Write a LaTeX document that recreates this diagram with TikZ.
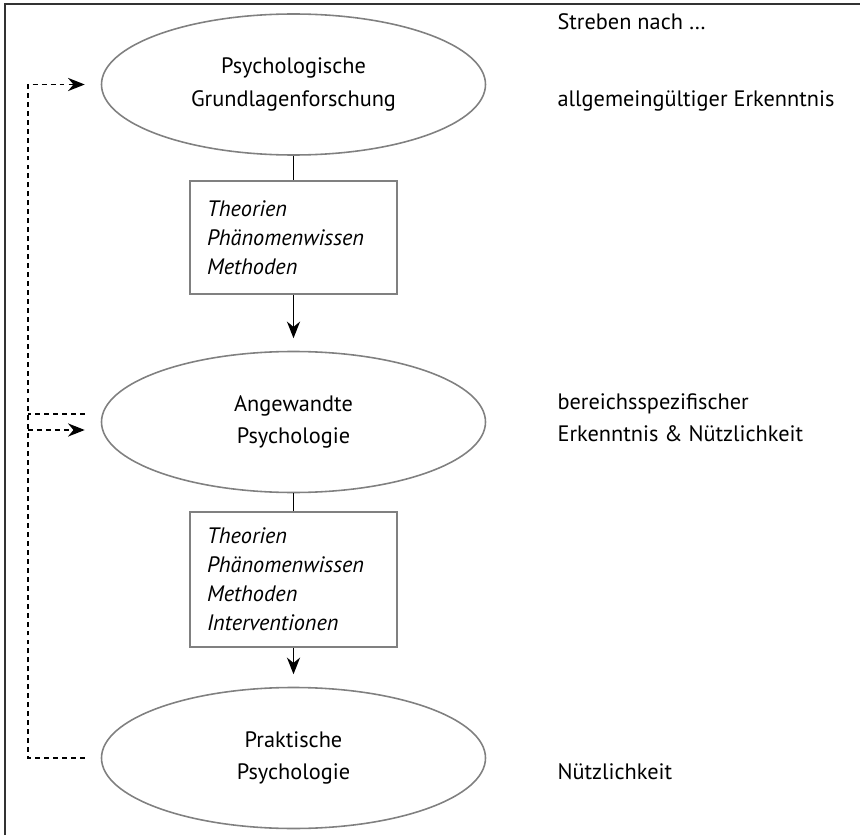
\documentclass[tikz,border=0pt]{standalone}
\usepackage{fontspec}
\setmainfont{PT Sans}
\usetikzlibrary{shapes.geometric,arrows.meta}

\begin{document}
\begin{tikzpicture}[line width=0.65pt,
  level/.style={ellipse, draw=black!50, line width=0.9pt, minimum width=7.68cm, minimum height=2.82cm, inner sep=0pt, align=center, font=\fontsize{12.7}{18.5}\selectfont},
  content/.style={draw=black!50, line width=0.9pt, minimum width=4.14cm, text width=3.46cm, inner xsep=0.34cm, align=left, font=\fontsize{12.7}{16.5}\selectfont\itshape},
  goal/.style={anchor=west, align=left, inner sep=0pt, font=\fontsize{12.7}{18.5}\selectfont},
  dashlink/.style={dash pattern=on 2.8pt off 2.3pt, line width=1pt},
  tip/.style={-{Stealth[length=9.5pt,width=7.5pt]}}]
  \useasboundingbox (0,0) rectangle (17.2,16.7);
  \draw[line width=1.1pt, black!80] (0.10,0) -- (0.10,16.62) -- (17.2,16.62);
  % levels of psychology
  \node[level] (grund) at (5.87,15.01) {Psychologische\\Grundlagenforschung};
  \node[content, minimum height=2.26cm] (wissen1) at (5.87,11.95) {Theorien\\Phänomenwissen\\Methoden};
  \node[level] (angew) at (5.87,8.26) {Angewandte\\Psychologie};
  \node[content, minimum height=2.70cm] (wissen2) at (5.87,5.11) {Theorien\\Phänomenwissen\\Methoden\\Interventionen};
  \node[level] (prakt) at (5.87,1.54) {Praktische\\Psychologie};
  % goals
  \node[goal] (streben) at (11.14,16.26) {Streben nach …};
  \node[goal] (ziel1) at (11.14,14.68) {allgemeingültiger Erkenntnis};
  \node[goal] (ziel2) at (11.14,8.35) {bereichsspezifischer\\Erkenntnis \& Nützlichkeit};
  \node[goal] (ziel3) at (11.14,1.26) {Nützlichkeit};
  % flow
  \draw (grund) -- (wissen1);
  \draw[tip, shorten >=0.25cm] (wissen1) -- (angew);
  \draw (angew) -- (wissen2);
  \draw[tip, shorten >=0.25cm] (wissen2) -- (prakt);
  % feedback
  \coordinate (spine) at (0.56,0);
  \draw[dashlink, tip, shorten <=0.32cm, shorten >=0.32cm] (prakt.west) -- (prakt.west -| spine) |- (grund.west);
  \draw[dashlink, shorten <=0.32cm] ([yshift=0.16cm]angew.west) -- ([yshift=0.16cm]angew.west -| spine);
  \draw[dashlink, tip, shorten >=0.32cm] ([yshift=-0.16cm]angew.west -| spine) -- ([yshift=-0.16cm]angew.west);
\end{tikzpicture}
\end{document}
